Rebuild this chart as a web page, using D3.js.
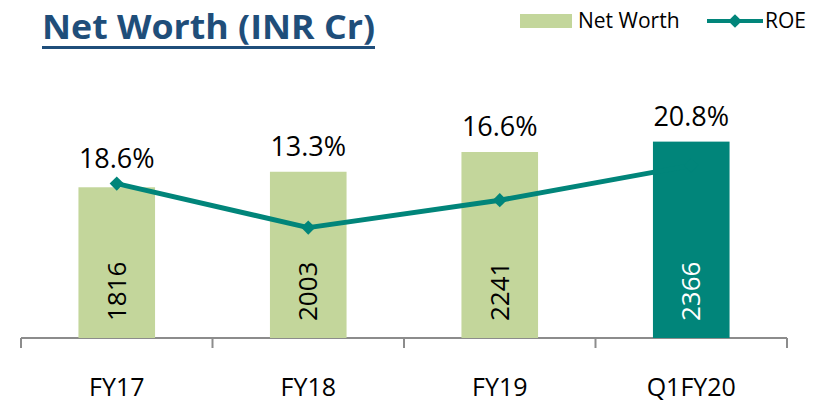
<!DOCTYPE html>
<html>
<head>
<meta charset="utf-8">
<script src="https://cdn.jsdelivr.net/npm/d3@7"></script>
<style>
  body { margin: 0; background: #fff; }
  text { font-family: "Open Sans", "DejaVu Sans", sans-serif; }
</style>
</head>
<body>
<svg id="chart" width="826" height="404"></svg>
<script>
'use strict';
const categories = ['FY17', 'FY18', 'FY19', 'Q1FY20'];
const netWorth = [1816, 2003, 2241, 2366];
const roe = [18.6, 13.3, 16.6, 20.8];
const roeLabels = ['18.6%', '13.3%', '16.6%', '20.8%'];

const lightGreen = '#c3d69b';
const teal = '#01857a';

const svg = d3.select('#chart');

let x = d3.scaleBand()
  .domain(categories)
  .range([21, 787])
  .paddingInner(0.6)
  .paddingOuter(0.3);

let y = d3.scaleLinear().domain([0, 3000]).range([338, 89]);
let yRoe = d3.scaleLinear().domain([0, 30]).range([338, 89]);

const cx = d => x(d) + x.bandwidth() / 2;

// title
let title = svg.append('text')
  .attr('x', 42)
  .attr('y', 39)
  .attr('font-size', '34px')
  .attr('font-weight', 700)
  .attr('fill', '#1f4e7a')
  .text('Net Worth (INR Cr)');
title.attr('textLength', 333).attr('lengthAdjust', 'spacingAndGlyphs');
svg.append('rect')
  .attr('x', 42).attr('y', 46)
  .attr('width', 333).attr('height', 3)
  .attr('fill', '#1f4e7a');

// legend
let legend = svg.append('g');
legend.append('rect')
  .attr('x', 520).attr('y', 14)
  .attr('width', 52).attr('height', 14)
  .attr('fill', lightGreen);
legend.append('text')
  .attr('x', 578).attr('y', 28)
  .attr('font-size', '21px')
  .text('Net Worth');
legend.append('line')
  .attr('x1', 707).attr('x2', 763)
  .attr('y1', 21).attr('y2', 21)
  .attr('stroke', teal).attr('stroke-width', 4);
legend.append('path')
  .attr('d', d3.symbol(d3.symbolDiamond2, 120)())
  .attr('transform', 'translate(735,21)')
  .attr('fill', teal);
legend.append('text')
  .attr('x', 765).attr('y', 28)
  .attr('font-size', '21px')
  .text('ROE');

// axis
let axis = svg.append('g').attr('stroke', '#8c8c8c').attr('stroke-width', 2);
axis.append('line')
  .attr('x1', x.range()[0]).attr('x2', x.range()[1])
  .attr('y1', y(0)).attr('y2', y(0));
const edges = d3.range(categories.length + 1).map(i => x.range()[0] + i * x.step());
axis.selectAll('.tick')
  .data(edges)
  .join('line')
  .attr('x1', d => d).attr('x2', d => d)
  .attr('y1', y(0)).attr('y2', y(0) + 10);

svg.selectAll('.cat')
  .data(categories)
  .join('text')
  .attr('class', 'cat')
  .attr('x', d => cx(d))
  .attr('y', y(0) + 58)
  .attr('text-anchor', 'middle')
  .attr('font-size', '25px')
  .attr('fill', '#000')
  .text(d => d);

// bars
svg.selectAll('.bar')
  .data(netWorth)
  .join('rect')
  .attr('class', 'bar')
  .attr('x', (d, i) => x(categories[i]))
  .attr('y', d => y(d))
  .attr('width', x.bandwidth())
  .attr('height', d => y(0) - y(d))
  .attr('fill', (d, i) => i === netWorth.length - 1 ? teal : lightGreen);

// roe line
let line = d3.line()
  .x((d, i) => cx(categories[i]))
  .y(d => yRoe(d));
svg.append('path')
  .datum(roe)
  .attr('d', line)
  .attr('fill', 'none')
  .attr('stroke', teal)
  .attr('stroke-width', 5)
  .attr('stroke-linejoin', 'round');
svg.selectAll('.marker')
  .data(roe)
  .join('path')
  .attr('class', 'marker')
  .attr('d', d3.symbol(d3.symbolDiamond2, 130)())
  .attr('transform', (d, i) => 'translate(' + cx(categories[i]) + ',' + yRoe(d) + ')')
  .attr('fill', teal);

// bar value labels (rotated)
svg.selectAll('.val')
  .data(netWorth)
  .join('text')
  .attr('class', 'val')
  .attr('transform', (d, i) => 'translate(' + (cx(categories[i]) + 9) + ',' + (y(0) - 17) + ') rotate(-90)')
  .attr('font-size', '26px')
  .attr('fill', (d, i) => i === netWorth.length - 1 ? '#fff' : '#000')
  .text(d => d);

// roe labels
svg.selectAll('.roe')
  .data(roe)
  .join('text')
  .attr('class', 'roe')
  .attr('x', (d, i) => cx(categories[i]))
  .attr('y', (d, i) => Math.min(y(netWorth[i]), yRoe(d)) - 16)
  .attr('text-anchor', 'middle')
  .attr('font-size', '27px')
  .attr('fill', '#000')
  .text((d, i) => roeLabels[i]);
</script>
</body>
</html>
